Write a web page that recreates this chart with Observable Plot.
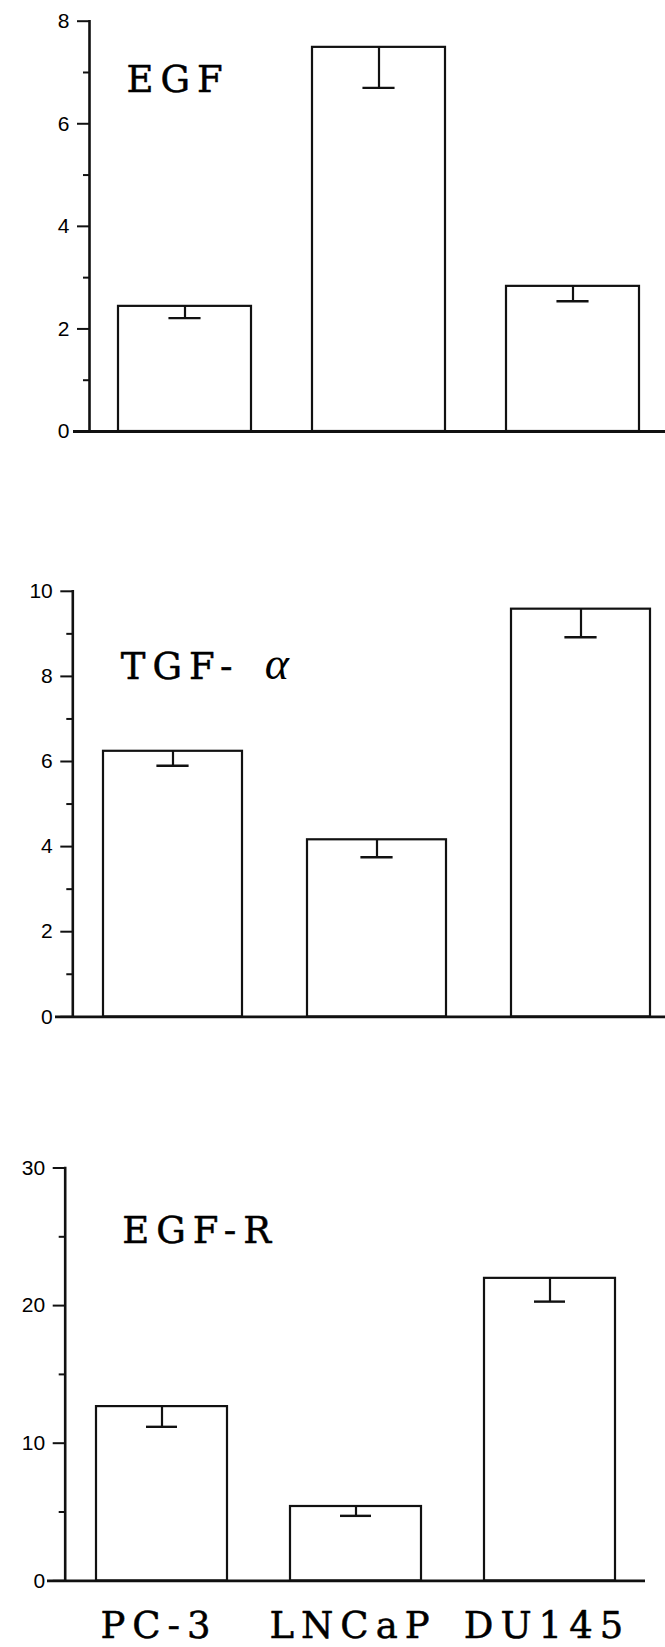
<!DOCTYPE html>
<html>
<head>
<meta charset="utf-8">
<script src="https://cdn.jsdelivr.net/npm/d3@7"></script>
<script src="https://cdn.jsdelivr.net/npm/@observablehq/plot@0.6"></script>
<style>
  html, body { margin: 0; padding: 0; background: #fff; }
  #chart svg { display: block; }
</style>
</head>
<body>
<div id="chart"></div>
<script>
// Prostate cancer cell lines
const cellLines = ["PC-3", "LNCaP", "DU145"];

// EGF
const egfMean = [2.44, 7.49, 2.83];
const egfErr = [0.23, 0.79, 0.29];
const egfTicks = [0, 2, 4, 6, 8];
const egfMinorTicks = [1, 3, 5, 7];

// TGF-alpha
const tgfMean = [6.24, 4.16, 9.58];
const tgfErr = [0.34, 0.41, 0.66];
const tgfTicks = [0, 2, 4, 6, 8, 10];
const tgfMinorTicks = [1, 3, 5, 7, 9];

// EGF receptor
const egfrMean = [12.66, 5.40, 21.98];
const egfrErr = [1.47, 0.68, 1.69];
const egfrTicks = [0, 10, 20, 30];
const egfrMinorTicks = [5, 15, 25];

const serif = "'DejaVu Serif', serif";
const sans = "'Liberation Sans', Arial, sans-serif";
const ink = "#111";

function panel(o) {
  const rows = cellLines.map((cell, i) => ({cell, mean: o.mean[i], low: o.mean[i] - o.err[i]}));
  const step = (o.xRange[1] - o.xRange[0]) / (cellLines.length - o.padding);
  const bandwidth = step * (1 - o.padding);
  const capInset = (bandwidth - 32) / 2;
  const top = o.ticks[o.ticks.length - 1];
  const lettering = {fontFamily: serif, fontSize: 37, fill: "#000", stroke: "#000", strokeWidth: 0.5};
  const marks = [
    Plot.ruleY([0], {stroke: ink, strokeWidth: 2.8, insetLeft: -(o.marginLeft - o.baseLeft), insetRight: o.baseRightInset}),
    Plot.barY(rows, {x: "cell", y: "mean", fill: "#fff", stroke: ink, strokeWidth: 2.2}),
    Plot.ruleX(rows, {x: "cell", y1: "low", y2: "mean", stroke: ink, strokeWidth: 2.2}),
    Plot.tickY(rows, {x: "cell", y: "low", insetLeft: capInset, insetRight: capInset, stroke: ink, strokeWidth: 2.4}),
    Plot.axisY({ticks: o.minor, tickSize: 6, tickFormat: () => "", stroke: ink, strokeWidth: 2, label: null}),
    Plot.axisY({ticks: o.ticks, tickSize: 12, tickPadding: 8, stroke: ink, strokeWidth: 2, label: null,
      fill: "#000", fontFamily: sans, fontSize: o.fontSize}),
    Plot.frame({anchor: "left", stroke: ink, strokeWidth: 2.6}),
    Plot.text([o.title], {frameAnchor: "top-left", dx: o.titleDx, dy: o.titleDy, textAnchor: "start", lineAnchor: "bottom", ...lettering})
  ];
  if (o.greek) {
    marks.push(Plot.text([o.greek], {frameAnchor: "top-left", dx: o.greekDx, dy: o.titleDy, textAnchor: "start", lineAnchor: "bottom",
      fontFamily: "'Liberation Serif', serif", fontStyle: "italic", fontSize: 46, fill: "#000"}));
  }
  if (o.showLabels) {
    marks.push(Plot.text(rows, {x: "cell", text: "cell", frameAnchor: "bottom", dx: -3, dy: o.labelDy, lineAnchor: "bottom", ...lettering}));
  }
  const svg = Plot.plot({
    width: 665,
    height: o.height,
    marginTop: o.marginTop,
    marginBottom: o.marginBottom,
    marginLeft: o.marginLeft,
    marginRight: 0,
    style: {fontFamily: sans, fontSize: o.fontSize + "px", color: "#000", background: "#fff"},
    x: {type: "band", domain: cellLines, range: o.xRange, paddingInner: o.padding, paddingOuter: 0, axis: null},
    y: {domain: [0, top], axis: null, label: null},
    marks
  });
  // spaced-out lettering for the panel titles and cell line names
  svg.querySelectorAll('[font-family*="DejaVu Serif"]').forEach((el) => el.style.letterSpacing = "7px");
  return svg;
}

const chart = document.getElementById("chart");

chart.append(panel({
  title: "EGF", mean: egfMean, err: egfErr, ticks: egfTicks, minor: egfMinorTicks,
  height: 560, marginTop: 20.7, marginBottom: 129, marginLeft: 89,
  xRange: [117, 639], padding: 0.317, baseLeft: 73, baseRightInset: 0,
  titleDx: 37, titleDy: 70.3, fontSize: 21
}));

chart.append(panel({
  title: "TGF-", greek: "α", mean: tgfMean, err: tgfErr, ticks: tgfTicks, minor: tgfMinorTicks,
  height: 570, marginTop: 30.8, marginBottom: 113.7, marginLeft: 72.3,
  xRange: [102.4, 649.4], padding: 0.32, baseLeft: 55, baseRightInset: 0,
  titleDx: 48, titleDy: 87.5, greekDx: 192, fontSize: 21
}));

chart.append(panel({
  title: "EGF-R", mean: egfrMean, err: egfrErr, ticks: egfrTicks, minor: egfrMinorTicks,
  height: 517, marginTop: 37.5, marginBottom: 66.7, marginLeft: 64.7,
  xRange: [94.5, 616.5], padding: 0.323, baseLeft: 47, baseRightInset: 20,
  titleDx: 57, titleDy: 75.2, fontSize: 21, showLabels: true, labelDy: 57.5
}));
</script>
</body>
</html>
